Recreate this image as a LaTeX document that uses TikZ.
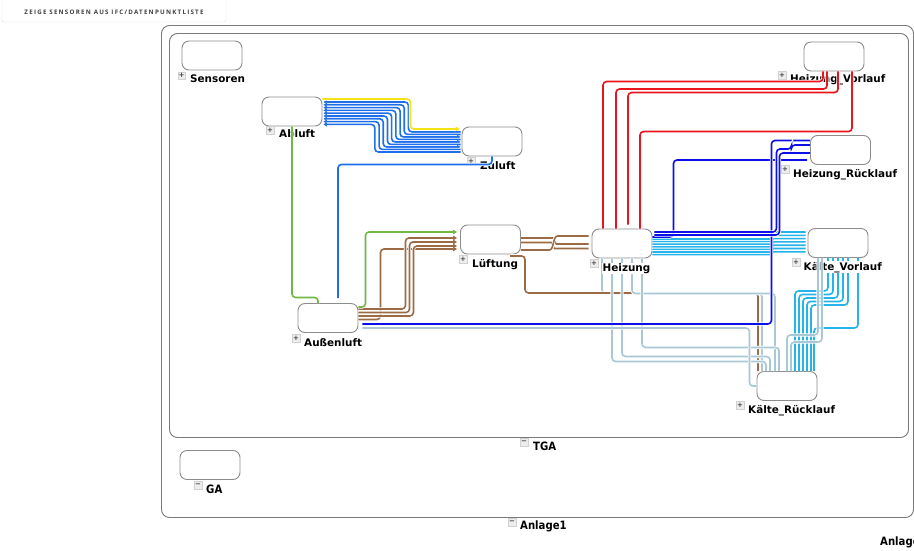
\documentclass[tikz,border=0pt]{standalone}
\usepackage{fontspec}
\setmainfont{DejaVu Sans}
\newfontfamily\lblfont{DejaVu Sans}
\newfontfamily\cndfont{DejaVu Sans}[FakeStretch=0.88]
\newfontfamily\btnfont{Open Sans}[LetterSpace=20]
\usetikzlibrary{arrows.meta}

\definecolor{boxgray}{HTML}{8C8C8C}
\definecolor{framegray}{HTML}{7A7A7A}
\definecolor{airblue}{HTML}{1F6FEB}
\definecolor{hvred}{HTML}{E8161C}
\definecolor{hrblue}{HTML}{0A10E6}
\definecolor{kvcyan}{HTML}{25B4EA}
\definecolor{krblue}{HTML}{A8C8D6}
\definecolor{brn}{HTML}{9C6A45}
\definecolor{grn}{HTML}{72B843}
\definecolor{ylw}{HTML}{F2E21A}

\begin{document}
\begin{tikzpicture}[x=1pt,y=-1pt,
  unitbox/.style={draw=boxgray, fill=white, line width=0.9pt, rounded corners=7pt,
    minimum width=60pt, minimum height=29pt, inner sep=0pt},
  frame/.style={draw=framegray, line width=0.9pt, rounded corners=8pt},
  tag/.style={font=\lblfont\bfseries\fontsize{10.4}{12}\selectfont, anchor=base west, inner sep=0pt},
  grouptag/.style={font=\cndfont\bfseries\fontsize{11.5}{13}\selectfont, anchor=base west, inner sep=0pt},
  toggle/.style={draw=black!18, fill=black!7, minimum size=7.5pt, inner sep=0pt,
    text=black!75, font=\lblfont\bfseries\fontsize{7}{7}\selectfont},
  pipe/.style={line width=1.6pt, rounded corners=3.5pt, preaction={draw=white, line width=3.2pt}},
  tipfwd/.style={-{Triangle[length=4pt,width=4.5pt]}},
  tipbwd/.style={{Triangle[length=3.5pt,width=4pt]}-},
  tipboth/.style={{Triangle[length=3.5pt,width=4pt]}-{Triangle[length=3.5pt,width=4pt]}},
]
\useasboundingbox (0,0) rectangle (914,551);

% toolbar button
\node[draw=black!12, fill=white, rounded corners=2pt, minimum width=224pt, minimum height=28pt,
  font=\btnfont\bfseries\fontsize{6.2}{7}\selectfont, text=black!75, text depth=0pt] (btn) at (114,8)
  {\raisebox{-7pt}{ZEIGE SENSOREN AUS IFC/DATENPUNKTLISTE}};

% group frames
\draw[frame] (161.5,25.5) rectangle (913.5,517.5);
\draw[frame] (169.5,33.5) rectangle (908.5,437.5);
\node[toggle] (tgat) at (524,442) {−};
\node[grouptag] (tgal) at (533,450) {TGA};
\node[toggle] (anlt) at (512,522) {−};
\node[grouptag] (anll) at (520,529) {Anlage1};
\node[grouptag] (anlx) at (880,545) {Anlage};

% units
\node[unitbox] (ga)   at (210,465)   {};
\node[unitbox] (sens) at (212,55.5)  {};
\node[unitbox] (abl)  at (292,111.5) {};
\node[unitbox] (zul)  at (492,141.5) {};
\node[unitbox] (luf)  at (490.5,239.5) {};
\node[unitbox] (heiz) at (622,243.5) {};
\node[unitbox] (aus)  at (328,318)   {};
\node[unitbox] (hv)   at (834,56.5)  {};
\node[unitbox] (hr)   at (840.5,150) {};
\node[unitbox] (kv)   at (838,243)   {};
\node[unitbox] (kr)   at (787,386)   {};

% unit captions
\node[toggle] (gat) at (198,485) {−};      \node[grouptag] (gal) at (206,493) {GA};
\node[toggle] (senst) at (181.5,75.5) {+}; \node[tag] (sensl) at (190,83) {Sensoren};
\node[toggle] (ablt) at (270,130) {+};     \node[tag] (abll) at (279,138) {Abluft};
\node[toggle] (zult) at (471,161) {+};     \node[tag] (zull) at (480,169) {Zuluft};
\node[toggle] (luft) at (463,259) {+};     \node[tag] (lufl) at (472,267) {Lüftung};
\node[toggle] (aust) at (296,338) {+};     \node[tag] (ausl) at (304,346) {Außenluft};
\node[toggle] (hvt) at (782,75) {+};       \node[tag] (hvl) at (790,83) {Heizung\_Vorlauf};
\node[toggle] (hrt) at (785,169) {+};      \node[tag] (hrl) at (793,177) {Heizung\_Rücklauf};
\node[toggle] (krt) at (740,405) {+};      \node[tag] (krl) at (748,413) {Kälte\_Rücklauf};

% chilled water supply: Heizung -> Kälte_Vorlauf
\foreach \i in {0,...,6}{
  \pgfmathsetmacro\dl{-4.5+2.6*\i}
  \pgfmathsetmacro\dr{-11+3.3*\i}
  \pgfmathsetmacro\dd{\dr-0.5-\dl}
  \draw[pipe, kvcyan] ([shift={(0,\dl)}]heiz.east) -- ++(116,0)
    to[out=0,in=180] ++(8,\dd) -- ([shift={(-2,\dr)}]kv.west);
}
% chilled water: Kälte_Vorlauf -> Kälte_Rücklauf
\foreach \i in {0,...,4}{
  \draw[pipe, kvcyan] ([shift={(-10+5*\i,0)}]kv.south) -- ++(0,33+3.5*\i)
    -| ([shift={(8+4*\i,0)}]kr.north);
}
\draw[pipe, kvcyan] ([shift={(20,0)}]kv.south) -- ++(0,70) -| ([shift={(27,0)}]kr.north);

% return lines: Heizung -> Kälte_Rücklauf
\draw[pipe, krblue] ([shift={(-20,0)}]heiz.south) -- ++(0,35) -| ([shift={(-25,0)}]kr.north);
\draw[pipe, brn] ([shift={(19.5,1.5)}]luf.south) -| (525,293) -| ([shift={(-29,0)}]kr.north);
\draw[pipe, krblue] ([shift={(10,0)}]heiz.south) -- ++(0,35) -| ([shift={(-12,0)}]kr.north);
\draw[pipe, krblue] ([shift={(-10,0)}]heiz.south) -- ++(0,103) -| ([shift={(-21,0)}]kr.north);
\draw[pipe, krblue] (heiz.south) -- ++(0,98) -| ([shift={(-17,0)}]kr.north);
\draw[pipe, krblue] ([shift={(20,0)}]heiz.south) -- ++(0,89) -| ([shift={(-8,0)}]kr.north);
\draw[pipe, krblue] ([shift={(4,10)}]aus.east) -- ++(387,0) |- (kr.west);

% captions drawn over the line starts
\node[toggle] (heizt) at (594,263) {+};
\node[tag, fill=white, inner sep=0.5pt] (heizl) at (602,271) {Heizung};
\node[toggle] (kvt) at (796,262) {+};
\node[tag, fill=white, inner sep=0.5pt] (kvl) at (803,270) {Kälte\_Vorlauf};

% Kälte_Vorlauf -> Kälte_Rücklauf
\draw[pipe, krblue] ([shift={(-20,0)}]kv.south) -- ++(0,77) -| (kr.north);
\draw[pipe, krblue] ([shift={(-16,0)}]kv.south) -- ++(0,84) -| ([shift={(4,0)}]kr.north);

% heating return
\draw[pipe, hrblue] ([shift={(0,-6.5)}]heiz.east) -- ++(21,0) |- ([shift={(-3,10)}]hr.west);
\draw[pipe, hrblue] ([shift={(4,6)}]aus.east) -- ++(409,0) |- ([shift={(0,-9.5)}]hr.west);
\draw[pipe, hrblue] ([shift={(2,-11.5)}]heiz.east) -- ++(122,0) -- ++(0,-83) -- ++(15,0)
  |- ([shift={(0,-5)}]hr.west);
\draw[pipe, hrblue] ([shift={(2,-8.5)}]heiz.east) -- ++(125,0) |- ([shift={(0,3)}]hr.west);

% heating supply
\draw[pipe, hvred] ([shift={(-19,0)}]heiz.north) -- ++(0,-147) -| ([shift={(-11,0)}]hv.south);
\draw[pipe, hvred] ([shift={(-6,0)}]heiz.north) -- ++(0,-139.5) -| ([shift={(-7,0)}]hv.south);
\draw[pipe, hvred] ([shift={(6,-4)}]heiz.north) -- ++(0,-132) -| ([shift={(4,0)}]hv.south);
\draw[pipe, hvred] ([shift={(18,0)}]heiz.north) -- ++(0,-97) -| ([shift={(18,0)}]hv.south);

% air: Außenluft -> Lüftung
\draw[pipe, brn, tipfwd] ([shift={(0,1.5)}]aus.east) -- ++(22,0) |- ([shift={(-3,9.5)}]luf.west);
\draw[pipe, brn, tipfwd] ([shift={(0,-9)}]aus.east) -- ++(47,0) |- ([shift={(-3,-1.5)}]luf.west);
\draw[pipe, brn, tipfwd] ([shift={(0,-5.5)}]aus.east) -- ++(51,0) |- ([shift={(-3,2.5)}]luf.west);
\draw[pipe, brn, tipfwd] ([shift={(0,-2)}]aus.east) -- ++(55,0) |- ([shift={(-3,6.5)}]luf.west);
\draw[pipe, grn, tipfwd] ([shift={(0,-11)}]aus.east) -- ++(7,0) |- ([shift={(-3,-7.5)}]luf.west);

% air: Lüftung -> Heizung
\draw[pipe, brn] ([shift={(0,-1.5)}]luf.east) -- ++(29,0) to[out=0,in=180] ++(10,6)
  -- ([shift={(-3,0.5)}]heiz.west);
\draw[pipe, brn] ([shift={(0,3)}]luf.east) -- ++(27,0) to[out=0,in=180] ++(10,6)
  -- ([shift={(-3,5)}]heiz.west);
\draw[pipe, brn] ([shift={(0,10.5)}]luf.east) -- ++(25,0) to[out=0,in=180] ++(15,-14)
  -- ([shift={(-3,-7.5)}]heiz.west);

% air: Abluft -> Außenluft
\draw[pipe, grn] (abl.south) -- ++(0,171) -| ([shift={(-10,0)}]aus.north);

% air: Zuluft <-> Abluft
\foreach \i/\tips in {0/tipbwd,1/tipbwd,2/tipboth,3/tipbwd,4/tipboth,5/tipbwd,6/tipboth,7/tipbwd,8/tipbwd}{
  \pgfmathsetmacro\ya{-9.5+2.8*\i}
  \pgfmathsetmacro\yb{-9.5+2.5*\i}
  \pgfmathsetmacro\run{85-4.2*\i}
  \draw[pipe, airblue, \tips] ([shift={(1,\ya)}]abl.east) -- ++(\run,0)
    |- ([shift={(-1,\yb)}]zul.west);
}
\draw[pipe, ylw, tipfwd] ([shift={(0,-12.5)}]abl.east) -- ++(88,0) |- ([shift={(-2,-12.5)}]zul.west);

% air: Zuluft -> Außenluft
\draw[pipe, airblue] (zul.south) -- ++(0,8) -| ([shift={(10,-5)}]aus.north);

\end{tikzpicture}
\end{document}
